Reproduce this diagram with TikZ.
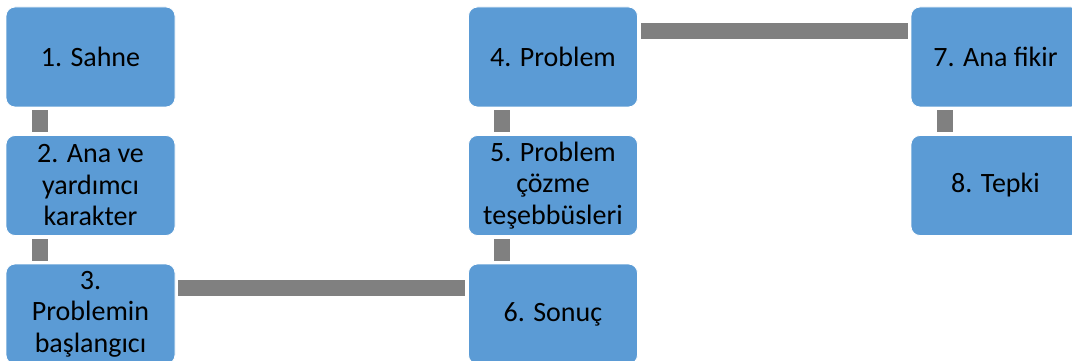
\documentclass[tikz,border=0pt]{standalone}
\usepackage{fontspec}
\setmainfont{Carlito}
\usetikzlibrary{calc}
\definecolor{boxblue}{HTML}{5B9BD5}
\definecolor{bargray}{HTML}{808080}
\tikzset{
  stepbox/.style={draw=white, line width=0.8pt, fill=boxblue, rounded corners=9pt,
    minimum width=169pt, minimum height=100pt, inner sep=0pt, align=center,
    font=\fontsize{28}{31.5}\selectfont, text=black},
  bar/.style={draw=none, fill=bargray}
}
\begin{document}
\begin{tikzpicture}[x=1pt, y=-1pt]
  \useasboundingbox (0,0) rectangle (1072,361);
  \clip (0,0) rectangle (1072,361);
  \fill[white] (0,0) rectangle (1072,361);

  % boxes
  \node[stepbox] (s1) at (90.5,57)   {1. Sahne};
  \node[stepbox] (s2) at (90.5,185.5) {2. Ana ve\\yardımcı\\karakter};
  \node[stepbox] (s3) at (90.5,314)  {3.\\Problemin\\başlangıcı};
  \node[stepbox] (s4) at (553,57)    {4. Problem};
  \node[stepbox] (s5) at (553,185.5) {5. Problem\\çözme\\teşebbüsleri};
  \node[stepbox] (s6) at (553,314)   {6. Sonuç};
  \node[stepbox] (s7) at (995.5,57)  {7. Ana fikir};
  \node[stepbox] (s8) at (995.5,185.5) {8. Tepki};

  % vertical bars between stacked boxes
  \foreach \a/\b in {s1/s2, s2/s3, s4/s5, s5/s6, s7/s8} {
    \fill[bar] ($(\a.south west)+(26pt,-3pt)$) rectangle ($(\b.north west)+(42pt,3pt)$);
  }
  % horizontal bars between columns
  \fill[bar] ($(s3.north east)+(3pt,-16pt)$) rectangle ($(s6.north west)+(-3pt,-32pt)$);
  \fill[bar] ($(s4.north east)+(3pt,-16pt)$) rectangle ($(s7.north west)+(-3pt,-32pt)$);
\end{tikzpicture}
\end{document}
